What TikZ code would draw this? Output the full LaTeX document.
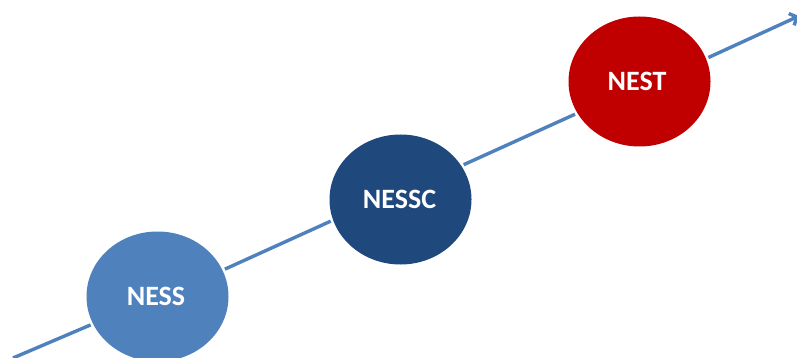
\documentclass[tikz,border=0pt]{standalone}
\usepackage{fontspec}
\setmainfont{Carlito}
\usetikzlibrary{shapes.geometric,arrows.meta}
\definecolor{linec}{HTML}{4F81BD}
\definecolor{navyc}{RGB}{31,73,125}
\definecolor{redc}{RGB}{192,0,0}
\tikzset{
  stage/.style={ellipse,inner sep=0pt,minimum width=142pt,minimum height=130pt,text=white,font=\bfseries\fontsize{28}{30}\selectfont},
  conn/.style={draw=linec,line width=3.4pt}
}
\begin{document}
\begin{tikzpicture}[x=1pt,y=-1pt]
\useasboundingbox (0,0) rectangle (797,358);
\fill[white] (0,0) rectangle (797,358);
\coordinate (start) at (13,358);
\coordinate (end) at (799,16);
\node[stage,fill=linec] (ness) at (157.5,296.5) {\kern-3pt NESS};
\node[stage,fill=navyc] (nessc) at (400.5,199.5) {\kern-2pt NESSC};
\node[stage,fill=redc] (nest) at (639.5,81.5) {\kern-5pt NEST};
\draw[conn,shorten >=2.5pt] (start) -- (ness.203.9);
\draw[conn,shorten <=2.5pt,shorten >=2.5pt] (ness.22.9) -- (nessc.197.9);
\draw[conn,shorten <=2.5pt,shorten >=2.5pt] (nessc.29.5) -- (nest.207.1);
\draw[conn,shorten <=2.5pt,-{Straight Barb[length=6pt,width=13pt]}] (nest.19.4) -- (end);
\end{tikzpicture}
\end{document}
